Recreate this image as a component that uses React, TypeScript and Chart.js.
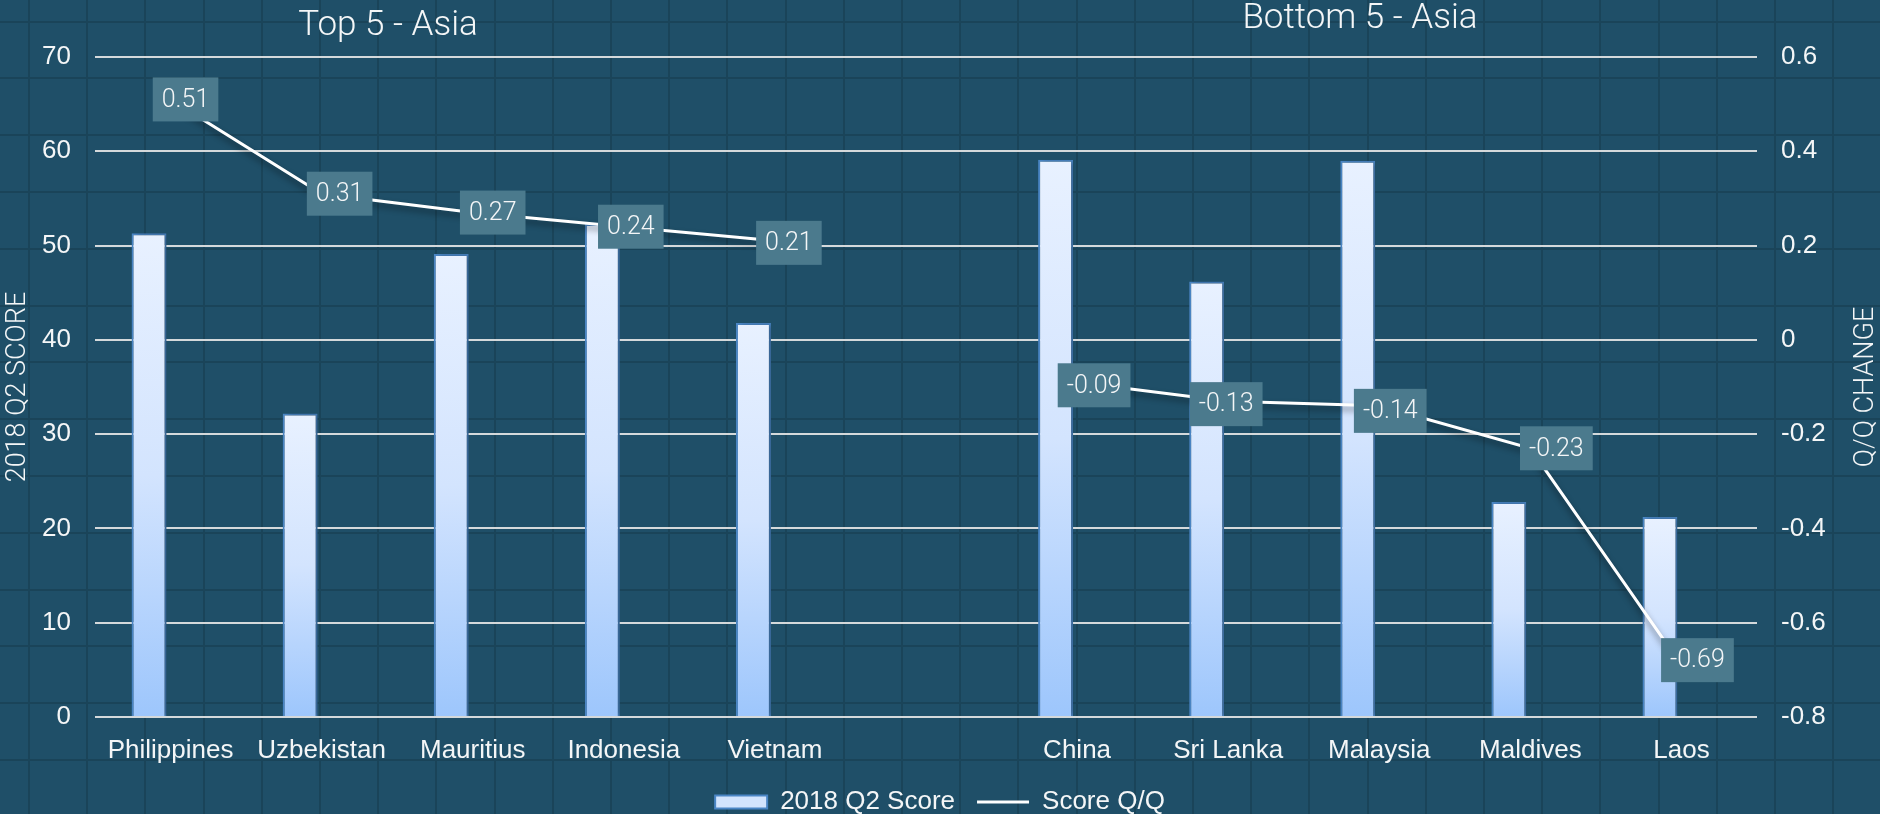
import React, { useEffect, useRef } from 'react';
import { Chart, registerables } from 'chart.js';

Chart.register(...registerables);

// ---- data ----
const categories = ['Philippines', 'Uzbekistan', 'Mauritius', 'Indonesia', 'Vietnam', '', 'China', 'Sri Lanka', 'Malaysia', 'Maldives', 'Laos'];
const scores: (number | null)[] = [51.3, 32.2, 49.1, 52.3, 41.8, null, 59.1, 46.2, 59.0, 22.8, 21.2];
const qqChange: (number | null)[] = [0.51, 0.31, 0.27, 0.24, 0.21, null, -0.09, -0.13, -0.14, -0.23, -0.69];
const seriesNames = ['2018 Q2 Score', 'Score Q/Q'];
const groupTitles = ['Top 5 - Asia', 'Bottom 5 - Asia'];
const axisTitles = ['2018 Q2 SCORE', 'Q/Q CHANGE'];
const leftAxis = { min: 0, max: 70, step: 10 };
const rightAxis = { min: -0.8, max: 0.6, step: 0.2 };

// ---- layout / style (not data) ----
const W = 1880;
const H = 814;
const LABEL_DX = [15, 18, 20, 7, 14, 0, 17, -2, 11, 26, 16];
const LABEL_DY = [0, 0, 0, 0, 2, 0, 3, 3, 5, 0, -5];
const SLAB = '"Roboto Slab", Roboto, "Open Sans", sans-serif';
const SANS = '"Liberation Sans", Arial, sans-serif';
const BG = '#1f4f68';
const BG_LINE = '#1a4459';
const TEXT = '#f4f6f7';

const backgroundPlugin = {
  id: 'bgPattern',
  beforeDraw(chart: any) {
    const ctx = chart.ctx;
    ctx.save();
    ctx.fillStyle = BG;
    ctx.fillRect(0, 0, chart.width, chart.height);
    ctx.fillStyle = BG_LINE;
    for (let x = 29; x < chart.width; x += 58.2) ctx.fillRect(Math.round(x) - 1, 0, 2, chart.height);
    for (let y = 21.5; y < chart.height; y += 56.8) ctx.fillRect(0, Math.round(y) - 1, chart.width, 2);
    ctx.restore();
  },
};

const shadowPlugin = {
  id: 'shadows',
  beforeDatasetDraw(chart: any, args: any) {
    const ctx = chart.ctx;
    ctx.save();
    if (args.meta.type === 'line') {
      ctx.shadowColor = 'rgba(0,0,0,0.45)';
      ctx.shadowBlur = 6;
      ctx.shadowOffsetX = 0;
      ctx.shadowOffsetY = 4;
    } else {
      ctx.shadowColor = 'rgba(0,0,0,0.3)';
      ctx.shadowBlur = 5;
      ctx.shadowOffsetX = 3;
      ctx.shadowOffsetY = 0;
    }
  },
  afterDatasetDraw(chart: any) {
    chart.ctx.restore();
  },
};

const labelsPlugin = {
  id: 'qqLabels',
  afterDatasetsDraw(chart: any) {
    const ctx = chart.ctx;
    const idx = chart.data.datasets.findIndex((d: any) => d.type === 'line');
    const meta = chart.getDatasetMeta(idx);
    ctx.save();
    ctx.font = `300 25px ${SLAB}`;
    ctx.textAlign = 'center';
    ctx.textBaseline = 'middle';
    qqChange.forEach((v, i) => {
      if (v === null) return;
      const pt = meta.data[i];
      const cx = pt.x + LABEL_DX[i];
      const cy = pt.y + LABEL_DY[i];
      const text = v.toFixed(2);
      const w = ctx.measureText(text).width + 18;
      const h = 44;
      ctx.fillStyle = '#4b7a8d';
      ctx.fillRect(cx - w / 2, cy - h / 2, w, h);
      ctx.fillStyle = TEXT;
      ctx.fillText(text, cx, cy + 1);
    });
    ctx.restore();
  },
  afterDraw(chart: any) {
    const ctx = chart.ctx;
    const area = chart.chartArea;
    ctx.save();
    ctx.fillStyle = TEXT;
    ctx.font = `300 35px ${SLAB}`;
    ctx.textAlign = 'center';
    ctx.textBaseline = 'alphabetic';
    ctx.fillText(groupTitles[0], 388, 34.5);
    ctx.fillText(groupTitles[1], 1360, 28.3);

    const midY = (area.top + area.bottom) / 2;
    ctx.font = `300 27px ${SLAB}`;
    ctx.textBaseline = 'middle';
    ctx.save();
    ctx.translate(18, midY);
    ctx.rotate(-Math.PI / 2);
    ctx.fillText(axisTitles[0], 0, 0);
    ctx.restore();
    ctx.save();
    ctx.translate(1866, midY);
    ctx.rotate(-Math.PI / 2);
    ctx.fillText(axisTitles[1], 0, 0);
    ctx.restore();
    ctx.restore();
  },
};

function barGradient(context: any) {
  const chart = context.chart;
  const yScale = chart.scales?.y;
  const raw = context.raw;
  if (!yScale || raw === null || raw === undefined || !chart.chartArea) return '#cfe1fd';
  const top = yScale.getPixelForValue(raw);
  const bottom = yScale.getPixelForValue(0);
  if (!isFinite(top) || !isFinite(bottom) || top === bottom) return '#cfe1fd';
  const g = chart.ctx.createLinearGradient(0, top, 0, bottom);
  g.addColorStop(0, '#e8f1ff');
  g.addColorStop(0.5, '#d3e4fe');
  g.addColorStop(1, '#9dc6fc');
  return g;
}

export default function App() {
  const ref = useRef<HTMLCanvasElement | null>(null);

  useEffect(() => {
    if (!ref.current) return;
    const chart = new Chart(ref.current, {
      type: 'bar',
      data: {
        labels: categories,
        datasets: [
          {
            type: 'line',
            label: seriesNames[1],
            data: qqChange,
            yAxisID: 'y1',
            borderColor: '#ffffff',
            backgroundColor: '#ffffff',
            borderWidth: 3,
            pointRadius: 0,
            pointHoverRadius: 0,
            pointStyle: 'line',
            spanGaps: false,
            tension: 0,
            order: 0,
          } as any,
          {
            type: 'bar',
            label: seriesNames[0],
            data: scores,
            yAxisID: 'y',
            backgroundColor: barGradient,
            borderColor: '#4a86c5',
            borderWidth: 2,
            borderSkipped: 'bottom',
            barPercentage: 0.814,
            categoryPercentage: 0.569,
            pointStyle: 'rect',
            order: 1,
          } as any,
          {
            type: 'bar',
            label: '_spacer',
            data: categories.map(() => null),
            yAxisID: 'y',
            barPercentage: 0.814,
            categoryPercentage: 0.569,
            order: 2,
          } as any,
        ],
      },
      options: {
        responsive: false,
        animation: false,
        devicePixelRatio: 1,
        layout: { padding: { top: 57, left: 0, right: 0, bottom: -11 } },
        plugins: {
          tooltip: { enabled: false },
          legend: {
            position: 'bottom',
            labels: {
              color: TEXT,
              font: { family: SANS, size: 26 },
              usePointStyle: true,
              pointStyleWidth: 52,
              boxHeight: 13,
              padding: 22,
              filter: (item: any) => item.text !== '_spacer',
              sort: (a: any, b: any) => b.datasetIndex - a.datasetIndex,
              generateLabels: (chart: any) => {
                const items = Chart.defaults.plugins.legend.labels.generateLabels(chart);
                return items.map((it: any) => {
                  if (it.text === seriesNames[0]) {
                    return { ...it, fillStyle: '#d2e4fd', strokeStyle: '#4a86c5', lineWidth: 2, pointStyle: 'rect' };
                  }
                  if (it.text === seriesNames[1]) {
                    return { ...it, strokeStyle: '#ffffff', fillStyle: '#ffffff', lineWidth: 3, pointStyle: 'line' };
                  }
                  return it;
                });
              },
            },
          },
        },
        scales: {
          x: {
            grid: { display: false, drawTicks: false },
            border: { display: false },
            ticks: { color: TEXT, font: { family: SANS, size: 26 }, padding: 18, maxRotation: 0, autoSkip: false },
            afterFit: (s: any) => { s.height = 50; },
          },
          y: {
            position: 'left',
            min: leftAxis.min,
            max: leftAxis.max,
            ticks: { stepSize: leftAxis.step, color: TEXT, font: { family: SANS, size: 26 }, padding: 24 },
            grid: { color: 'rgba(222,224,226,0.95)', lineWidth: 2, drawTicks: false },
            border: { display: false },
            afterFit: (s: any) => { s.width = 95; },
          },
          y1: {
            position: 'right',
            min: rightAxis.min,
            max: rightAxis.max,
            ticks: {
              stepSize: rightAxis.step,
              color: TEXT,
              font: { family: SANS, size: 26 },
              padding: 24,
              callback: (v: any) => String(Number(Number(v).toFixed(1))),
            },
            grid: { display: false, drawTicks: false },
            border: { display: false },
            afterFit: (s: any) => { s.width = 123; },
          },
        },
      } as any,
      plugins: [backgroundPlugin, shadowPlugin, labelsPlugin],
    });
    return () => chart.destroy();
  }, []);

  return (
    <div style={{ position: 'fixed', left: 0, top: 0, width: W, height: H, overflow: 'hidden' }}>
      <canvas ref={ref} width={W} height={H} style={{ display: 'block', width: W, height: H }} />
    </div>
  );
}
